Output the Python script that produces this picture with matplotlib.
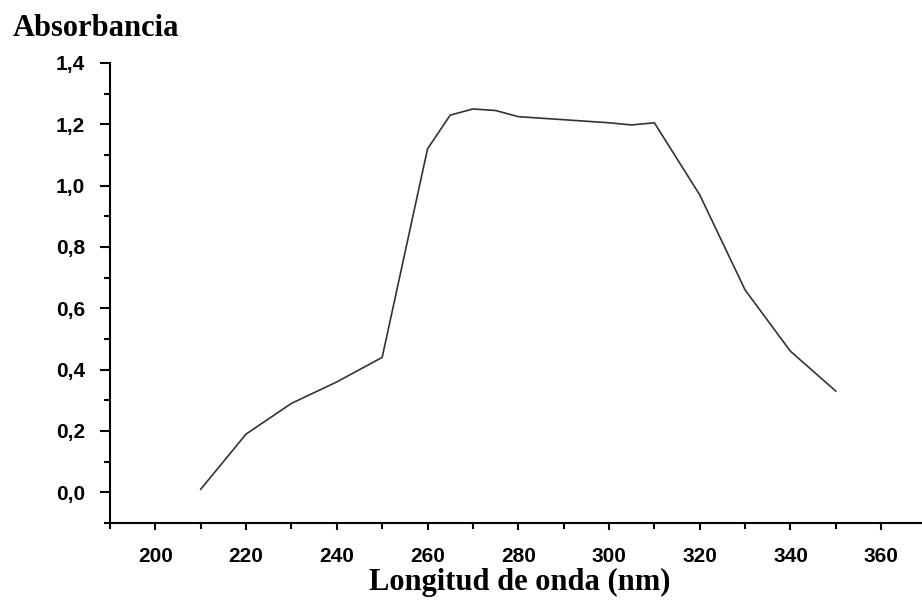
import matplotlib.pyplot as plt
from matplotlib.ticker import MultipleLocator, FuncFormatter

## Data ##
wavelength = [210, 220, 230, 240, 250, 260, 265, 270, 275, 280, 290, 300, 305, 310, 320, 330, 340, 345, 350]
absorbance = [0.01, 0.19, 0.29, 0.36, 0.44, 1.12, 1.23, 1.25, 1.245, 1.225, 1.215, 1.205, 1.198, 1.205,
              0.97, 0.66, 0.46, 0.395, 0.33]
x_ticks = [200, 220, 240, 260, 280, 300, 320, 340, 360]
y_ticks = [0.0, 0.2, 0.4, 0.6, 0.8, 1.0, 1.2, 1.4]

fig = plt.figure(figsize=(9.22, 6.01), dpi=100)
ax = fig.add_axes([0.1193, 0.1298, 0.8807, 0.7654])

ax.plot(wavelength, absorbance, color="#333333", lw=1.2)

ax.set_xlim(190, 369)
ax.set_ylim(-0.1, 1.4)
ax.set_xticks(x_ticks)
ax.set_yticks(y_ticks)
ax.xaxis.set_minor_locator(MultipleLocator(10))
ax.yaxis.set_minor_locator(MultipleLocator(0.1))
ax.yaxis.set_major_formatter(FuncFormatter(lambda v, p: f"{v:.1f}".replace(".", ",")))

for s in ["top", "right"]:
    ax.spines[s].set_visible(False)
for s in ["left", "bottom"]:
    ax.spines[s].set_linewidth(1.5)

ax.tick_params(which="major", direction="out", length=7, width=1.5)
ax.tick_params(which="minor", direction="out", length=4, width=1.5)
ax.tick_params(axis="x", which="major", length=5, pad=12)
ax.tick_params(axis="y", which="major", pad=11)
for lab in ax.get_xticklabels() + ax.get_yticklabels():
    lab.set_fontfamily("Liberation Sans")
    lab.set_fontweight("bold")
    lab.set_fontsize(15)

## Titles ##
fig.text(0.014, 0.953, "Absorbancia", family="Liberation Serif", weight="bold",
         fontsize=22, ha="left", va="center")
fig.text(0.564, 1 - 582 / 601, "Longitud de onda (nm)", family="Liberation Serif",
         weight="bold", fontsize=22, ha="center", va="center")

plt.savefig("out.png", dpi=100)
